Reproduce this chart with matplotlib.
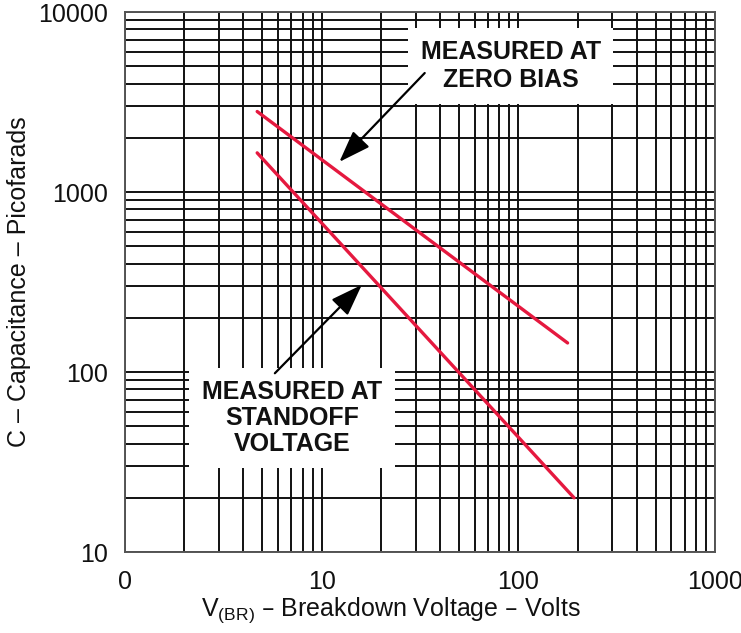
import matplotlib
matplotlib.use("Agg")
import matplotlib.pyplot as plt
from matplotlib.ticker import FixedLocator, FixedFormatter, LogLocator, NullFormatter

plt.rcParams['font.family'] = ['Liberation Sans', 'DejaVu Sans']

# Data
zero_bias_v = [4.7, 178]
zero_bias_c = [2800, 145]
standoff_v = [4.7, 192]
standoff_c = [1650, 20]

x_ticks = [1, 10, 100, 1000]
x_tick_labels = ["0", "10", "100", "1000"]
y_ticks = [10, 100, 1000, 10000]
y_tick_labels = ["10", "100", "1000", "10000"]

label_zero = "MEASURED AT\nZERO BIAS"
label_standoff = "MEASURED AT\nSTANDOFF\nVOLTAGE"
zero_tip = (12.3, 1470)
standoff_tip = (16.0, 305)

fig = plt.figure(figsize=(7.41, 6.33), dpi=100)
ax = fig.add_axes([125/741, 81/633, 590/741, 540/633])
ax.set_xscale('log')
ax.set_yscale('log')
ax.set_xlim(1, 1000)
ax.set_ylim(10, 10000)

gridc = '#111111'
ax.xaxis.set_major_locator(FixedLocator(x_ticks))
ax.xaxis.set_major_formatter(FixedFormatter(x_tick_labels))
ax.yaxis.set_major_locator(FixedLocator(y_ticks))
ax.yaxis.set_major_formatter(FixedFormatter(y_tick_labels))
ax.xaxis.set_minor_locator(LogLocator(base=10, subs=range(2, 10)))
ax.yaxis.set_minor_locator(LogLocator(base=10, subs=range(2, 10)))
ax.xaxis.set_minor_formatter(NullFormatter())
ax.yaxis.set_minor_formatter(NullFormatter())
ax.grid(True, which='both', color=gridc, linewidth=1.4)
ax.set_axisbelow(True)
ax.tick_params(which='both', length=0)
ax.tick_params(axis='x', pad=13, labelsize=18, colors='#111111')
ax.tick_params(axis='y', pad=12, labelsize=18, colors='#111111')
for s in ax.spines.values():
    s.set_color('#555555')
    s.set_linewidth(1.4)

red = '#E5193F'
ax.plot(zero_bias_v, zero_bias_c, color=red, lw=2.4, solid_capstyle='round', zorder=3)
ax.plot(standoff_v, standoff_c, color=red, lw=2.4, solid_capstyle='round', zorder=3)

box = dict(facecolor='white', edgecolor='none', pad=9)
ax.text(0.654, 0.900, label_zero, transform=ax.transAxes, ha='center', va='center',
        fontsize=18, fontweight='bold', color='#111111', linespacing=1.2, bbox=box, zorder=4)
ax.text(0.283, 0.248, label_standoff, transform=ax.transAxes, ha='center', va='center',
        fontsize=18, fontweight='bold', color='#111111', linespacing=1.1, bbox=box, zorder=4)

arrow = dict(arrowstyle='-|>,head_length=1.4,head_width=0.5', mutation_scale=14,
             color='black', lw=1.6, shrinkA=0, shrinkB=0)
ax.annotate('', xy=zero_tip, xycoords='data', xytext=(0.508, 0.887),
            textcoords='axes fraction', arrowprops=arrow, zorder=5)
ax.annotate('', xy=standoff_tip, xycoords='data', xytext=(0.254, 0.331),
            textcoords='axes fraction', arrowprops=arrow, zorder=5)

ax.set_xlabel(r"V$_{\mathregular{(BR)}}$ – Breakdown Voltage – Volts", fontsize=18, color='#111111')
ax.xaxis.set_label_coords(0.451, -0.08)
ax.set_ylabel("C – Capacitance – Picofarads", fontsize=18, color='#111111')
ax.yaxis.set_label_coords(-0.16, 0.5)

fig.savefig('out.png', dpi=100)
